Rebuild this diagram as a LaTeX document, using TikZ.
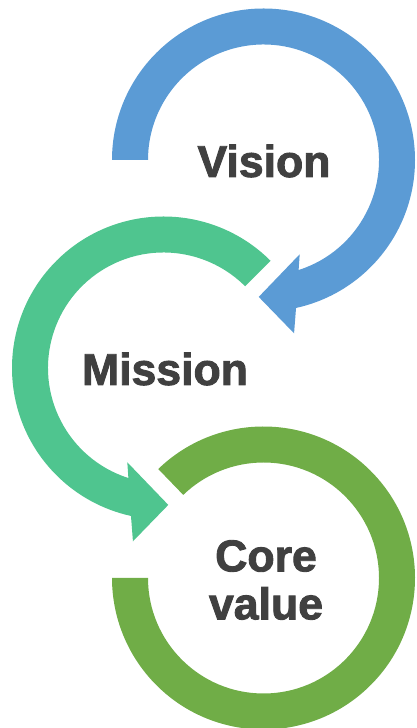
\documentclass[tikz,border=0pt]{standalone}
\usepackage{fontspec}
\setmainfont{Liberation Sans}[BoldFeatures={FakeBold=2}]
\definecolor{visionblue}{HTML}{5B9BD5}
\definecolor{missiongreen}{HTML}{4FC58F}
\definecolor{valuegreen}{HTML}{70AD47}
\definecolor{wordgray}{HTML}{404040}
\begin{document}
\begin{tikzpicture}
	[	x=1pt,y=1pt,
	word/.style={text=wordgray,font=\fontsize{44.6}{48}\selectfont\bfseries,align=center,inner sep=0pt}
	]
	\useasboundingbox (0,0) rectangle (416,728);
	\coordinate (cv) at (263.5,568);
	\coordinate (cm) at (163.5,360);
	\coordinate (cc) at (263.5,150);

	% vision: clockwise from the left, head at the bottom
	\fill[visionblue,shift={(cv)}] (180:151.5) arc[start angle=180,end angle=-77.6,radius=151.5]
		-- (-80:176) -- (-92:137) -- (-69:101) -- (-72.3:115.5)
		arc[start angle=-72.3,end angle=180,radius=115.5] -- cycle;
	% mission: counterclockwise from upper right
	\fill[missiongreen,shift={(cm)}] (45:151.5) arc[start angle=45,end angle=257.6,radius=151.5]
		-- (260:176) -- (272:137) -- (249:101) -- (252.3:115.5)
		arc[start angle=252.3,end angle=45,radius=115.5] -- cycle;
	% core value: open ring, no head
	\fill[valuegreen,shift={(cc)}] (134:151.5) arc[start angle=134,end angle=-180,radius=151.5]
		-- (180:115.5) arc[start angle=-180,end angle=134,radius=115.5] -- cycle;

	\node[word] (vision) at (264,567){Vision};
	\node[word] (mission) at (165,359){Mission};
	\node[word] (core) at (266,148){Core\\value};
\end{tikzpicture}
\end{document}
